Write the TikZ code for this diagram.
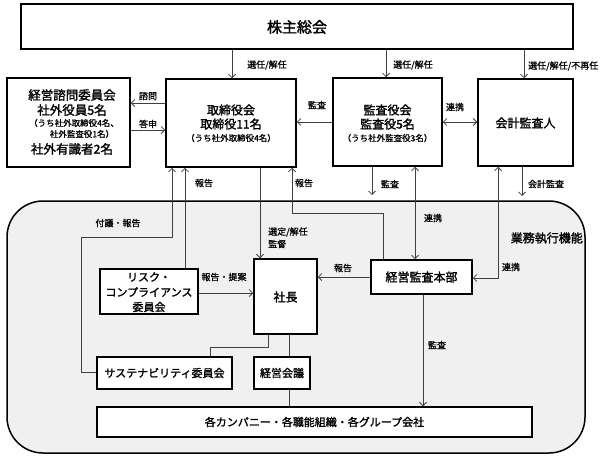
\documentclass[tikz,border=0pt]{standalone}
\usepackage{fontspec}
\setmainfont{Noto Sans CJK JP}[FakeBold=0.8]
\newfontfamily\jpbold{Noto Sans CJK JP}[FakeBold=1.6]
\usetikzlibrary{arrows.meta,fit}
\definecolor{execfill}{HTML}{F0F0F0}
\definecolor{linegray}{HTML}{404040}
\begin{document}
\begin{tikzpicture}[x=1pt,y=-1pt,
 box/.style={draw=black,line width=1.5pt,fill=white,inner sep=0pt},
 con/.style={draw=linegray,line width=0.8pt},
 arr/.style={con,-{Straight Barb[length=3.5pt,width=7pt]}},
 darr/.style={con,{Straight Barb[length=3.5pt,width=7pt]}-{Straight Barb[length=3.5pt,width=7pt]}},
 lbl/.style={font=\fontsize{9}{10}\selectfont,inner sep=0pt},
 txt/.style={font=\jpbold\fontsize{12}{14}\selectfont,inner sep=0pt},
 big/.style={font=\jpbold\fontsize{12.5}{14}\selectfont,inner sep=0pt},
 mid/.style={font=\jpbold\fontsize{11}{13}\selectfont,inner sep=0pt},
 sm/.style={font=\fontsize{8.5}{10}\selectfont,inner sep=0pt},
]
\useasboundingbox (0,0) rectangle (603,458);
% execution area
\node[draw=black,line width=1.5pt,fill=execfill,rounded corners=36pt,inner sep=0pt,fit={(7,201) (585,453)}] (exec) {};
\node[txt,anchor=east] (execlbl) at (583,238) {業務執行機能};

% boxes
\node[box,fit={(21,4) (573,49)}] (kabu) {};
\node[box,fit={(7,78) (130,167)}] (keiei) {};
\node[box,fit={(166,79) (296,167)}] (tori) {};
\node[box,fit={(333,78) (442,166)}] (kansa) {};
\node[box,fit={(478,79) (573,166)}] (kaikei) {};
\node[box,fit={(254,259) (317,334)}] (shacho) {};
\node[box,fit={(100,269) (198,314)}] (risk) {};
\node[box,fit={(371,260) (472,294)}] (honbu) {};
\node[box,fit={(97,357) (232,389)}] (sust) {};
\node[box,fit={(254,357) (310,389)}] (kaigi) {};
\node[box,fit={(97,407) (532,437)}] (kaku) {};

% box texts
\node[font=\jpbold\fontsize{15}{17}\selectfont,inner sep=0pt] (tkabu) at (297,27) {株主総会};
\node[big] (tk1) at (72,95) {経営諮問委員会};
\node[big] (tk2) at (72,110) {社外役員5名};
\node[sm] (tk3) at (74,123) {（うち社外取締役4名、};
\node[sm] (tk4) at (82,134) {社外監査役1名）};
\node[big] (tk5) at (72,149) {社外有識者2名};
\node[txt] (tt1) at (231,110) {取締役会};
\node[txt] (tt2) at (231,124) {取締役11名};
\node[sm] (tt3) at (231,138) {（うち社外取締役4名）};
\node[txt] (ts1) at (387.5,110) {監査役会};
\node[txt] (ts2) at (387.5,124) {監査役5名};
\node[sm] (ts3) at (387.5,138) {（うち社外監査役3名）};
\node[txt] (tkai) at (525.5,123) {会計監査人};
\node[txt] (tsha) at (285.5,297) {社長};
\node[mid] (tr1) at (149,277) {リスク・};
\node[mid] (tr2) at (149,292) {コンプライアンス};
\node[mid] (tr3) at (149,307) {委員会};
\node[txt] (thon) at (421.5,277) {経営監査本部};
\node[mid] (tsus) at (164.5,373) {サステナビリティ委員会};
\node[mid] (tkg) at (282,373) {経営会議};
\node[mid] (tkaku) at (314.5,422) {各カンパニー・各職能組織・各グループ会社};

% connectors
\draw[arr] (232,0 |- kabu.south) -- (232,0 |- tori.north);
\draw[arr] (386,0 |- kabu.south) -- (386,0 |- kansa.north);
\draw[arr] (524,0 |- kabu.south) -- (524,0 |- kaikei.north);
\draw[arr] (tori.west |- 0,103) -- (keiei.east |- 0,103);
\draw[arr] (keiei.east |- 0,130) -- (tori.west |- 0,130);
\draw[arr] (kansa.west |- 0,122) -- (tori.east |- 0,122);
\draw[darr] (kansa.east |- 0,122) -- (kaikei.west |- 0,122);
\draw[arr] (260,0 |- tori.south) -- (260,0 |- shacho.north);
\draw[arr] (185,0 |- risk.north) -- (185,0 |- tori.south);
\draw[arr] (sust.west |- 0,372) -| (81,237) -| (172,0 |- tori.south);
\draw[arr] (383,0 |- honbu.north) |- (292,213) -- (292,0 |- tori.south);
\coordinate (kansaEnd) at (372,195);
\draw[arr] (372,0 |- kansa.south) -- (kansaEnd);
\draw[darr] (415,0 |- kansa.south) -- (415,0 |- honbu.north);
\coordinate (kaikeiEnd) at (522,196);
\draw[arr] (522,0 |- kaikei.south) -- (kaikeiEnd);
\draw[darr] (498,0 |- kaikei.south) |- (honbu.east |- 0,278);
\draw[arr] (honbu.west |- 0,277) -- (shacho.east |- 0,277);
\draw[arr] (risk.east |- 0,293) -- (shacho.west |- 0,293);
\draw[arr] (423,0 |- honbu.south) -- (423,0 |- kaku.north);
\draw[con] (210,0 |- sust.north) |- (268,347) -- (268,0 |- shacho.south);
\draw[con] (289,0 |- shacho.south) -- (289,0 |- kaigi.north);
\draw[con] (289,0 |- kaigi.south) -- (289,0 |- kaku.north);

% labels
\node[lbl,anchor=west] (l1) at (247,65) {選任/解任};
\node[lbl,anchor=west] (l2) at (393,65) {選任/解任};
\node[lbl,anchor=west] (l3) at (528,66) {選任/解任/不再任};
\node[lbl] (l4) at (148,96) {諮問};
\node[lbl] (l5) at (148,124) {答申};
\node[lbl] (l6) at (317,105) {監査};
\node[lbl] (l7) at (455,107) {連携};
\node[lbl] (l8) at (204,183) {報告};
\node[lbl] (l9) at (304,183) {報告};
\node[lbl] (l10) at (390,184) {監査};
\node[lbl] (l11) at (546,184) {会計監査};
\node[lbl] (l12) at (118,223) {付議・報告};
\node[lbl,anchor=west] (l13) at (268,232) {選定/解任};
\node[lbl,anchor=west] (l14) at (268,244) {監督};
\node[lbl] (l15) at (433,218) {連携};
\node[lbl] (l16) at (343,268) {報告};
\node[lbl] (l17) at (511,267) {連携};
\node[lbl] (l18) at (224,277) {報告・提案};
\node[lbl] (l19) at (437,345) {監査};
\end{tikzpicture}
\end{document}
